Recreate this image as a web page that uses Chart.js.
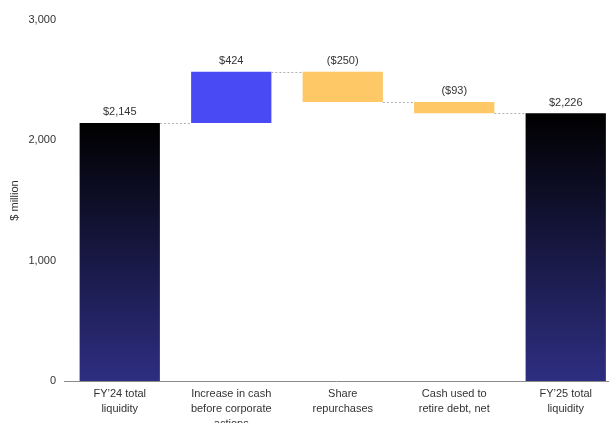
<!DOCTYPE html>
<html>
<head>
<meta charset="utf-8">
<script src="https://cdn.jsdelivr.net/npm/chart.js@4/dist/chart.umd.min.js"></script>
<style>
  html, body { margin: 0; padding: 0; background: #fff; overflow: hidden; }
  #wrap { width: 613px; height: 423px; position: relative; }
</style>
</head>
<body>
<div id="wrap"><canvas id="c"></canvas></div>
<script>
const categories = [
  ["FY\u201924 total", "liquidity"],
  ["Increase in cash", "before corporate", "actions"],
  ["Share", "repurchases"],
  ["Cash used to", "retire debt, net"],
  ["FY\u201925 total", "liquidity"]
];
const values = [2145, 424, -250, -93, 2226];
const kinds = ["total", "delta", "delta", "delta", "total"];
const yTicks = [0, 1000, 2000, 3000];

// floating ranges built from the values
const ranges = [];
let running = 0;
values.forEach((v, i) => {
  if (kinds[i] === "total") { ranges.push([0, v]); running = v; }
  else { ranges.push([running, running + v]); running += v; }
});

function fmt(v) {
  const s = "$" + Math.abs(v).toLocaleString("en-US");
  return v < 0 ? "(" + s + ")" : s;
}

const FONT = "'Liberation Sans', Arial, sans-serif";
const TXT = "#333333";

function barColor(ctx) {
  const i = ctx.dataIndex;
  if (kinds[i] === "delta") return values[i] >= 0 ? "#4a4af5" : "#fdc865";
  const chart = ctx.chart;
  const y = chart.scales.y;
  if (!y || !chart.chartArea) return "#1a1a50";
  const top = y.getPixelForValue(ranges[i][1]);
  const bot = y.getPixelForValue(0);
  const g = chart.ctx.createLinearGradient(0, top, 0, bot);
  g.addColorStop(0, "#000000");
  g.addColorStop(1, "#2e2e82");
  return g;
}

const overlay = {
  id: "overlay",
  afterDatasetsDraw(chart) {
    const ctx = chart.ctx;
    const meta = chart.getDatasetMeta(0);
    const y = chart.scales.y;
    ctx.save();
    // connectors
    ctx.strokeStyle = "#b0b0b0";
    ctx.lineWidth = 1;
    ctx.setLineDash([2, 2]);
    for (let i = 0; i < meta.data.length - 1; i++) {
      const a = meta.data[i], b = meta.data[i + 1];
      const lvl = ranges[i][1];
      const py = Math.round(y.getPixelForValue(lvl)) + 0.5;
      ctx.beginPath();
      ctx.moveTo(a.x + a.width / 2, py);
      ctx.lineTo(b.x - b.width / 2, py);
      ctx.stroke();
    }
    ctx.setLineDash([]);
    // value labels
    ctx.fillStyle = TXT;
    ctx.font = "11px " + FONT;
    ctx.textAlign = "center";
    ctx.textBaseline = "bottom";
    meta.data.forEach((el, i) => {
      const top = Math.max(ranges[i][0], ranges[i][1]);
      const py = y.getPixelForValue(top);
      ctx.fillText(fmt(values[i]), el.x, py - 5);
    });
    ctx.restore();
  }
};

new Chart(document.getElementById("c"), {
  type: "bar",
  data: {
    datasets: [{
      data: ranges.map((r, i) => ({ x: i, y: r })),
      backgroundColor: barColor,
      borderWidth: 0,
      barPercentage: 0.9,
      categoryPercentage: 0.8
    }]
  },
  options: {
    responsive: true,
    maintainAspectRatio: false,
    animation: false,
    layout: { padding: { top: 20, right: 5, left: 0, bottom: 0 } },
    plugins: { legend: { display: false }, tooltip: { enabled: false } },
    scales: {
      x: {
        type: "linear",
        offset: false,
        min: -0.5,
        max: 4.379,
        grid: { display: false, drawTicks: false },
        border: { display: true, color: "#8a8a8a", width: 1 },
        afterBuildTicks(axis) { axis.ticks = categories.map((_, i) => ({ value: i })); },
        afterFit(axis) { axis.height = 42; },
        ticks: {
          autoSkip: false,
          maxRotation: 0,
          padding: 6,
          color: TXT,
          font: { family: FONT, size: 11, lineHeight: 1.35 },
          callback: (v) => categories[v] || ""
        }
      },
      y: {
        min: 0,
        max: 3000,
        grid: { display: false, drawTicks: false },
        border: { display: false },
        afterBuildTicks(axis) { axis.ticks = yTicks.map(v => ({ value: v })); },
        afterFit(axis) { axis.width = 64; },
        ticks: {
          padding: 8,
          color: TXT,
          font: { family: FONT, size: 11 },
          callback: (v) => v.toLocaleString("en-US")
        },
        title: {
          display: true,
          text: "$ million",
          color: TXT,
          font: { family: FONT, size: 11 },
          padding: { top: 8, bottom: 0 }
        }
      }
    }
  },
  plugins: [overlay]
});
</script>
</body>
</html>
